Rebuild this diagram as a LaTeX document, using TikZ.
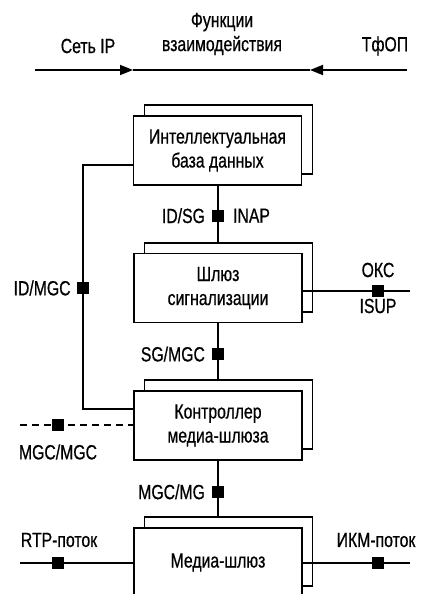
\documentclass[tikz,border=0pt]{standalone}
\usepackage{fontspec}
\setmainfont[FakeStretch=0.77,FakeBold=0.6]{Liberation Sans}
\usetikzlibrary{arrows.meta}
\begin{document}
\begin{tikzpicture}[x=1pt,y=-1pt,
  every node/.style={font=\fontsize{20.5}{24}\selectfont},
  ln/.style={line width=1.8pt},
  frontbox/.style={draw,line width=1.8pt,fill=white,minimum width=168pt,minimum height=69pt,inner sep=0pt,align=center},
  backbox/.style={draw,line width=1.8pt,fill=white,minimum width=168pt,minimum height=69pt,inner sep=0pt},
  sq/.style={fill=black,minimum size=12pt,inner sep=0pt},
  lbl/.style={inner sep=0pt},
  arr/.style={line width=1.8pt,-{Triangle[length=13pt,width=10pt]}}
]
\useasboundingbox (0,0) rectangle (422,594);
% top interworking line
\coordinate (tl) at (35,70);
\coordinate (tr) at (407,70);
\coordinate (al) at (133,70);
\coordinate (ar) at (310,70);
\draw[arr] (tl) -- (al);
\draw[arr] (tr) -- (ar);
\draw[ln] (al) -- (ar);
\node[lbl] (ip) at (88,46) {Сеть IP};
\node[lbl,align=center] (fv) at (222,34) {Функции\\взаимодействия};
\node[lbl] (tfop) at (385,46) {ТфОП};
% boxes
\node[backbox] (b1b) at (228.5,139.5) {};
\node[frontbox] (b1) at (217.5,150.5) {Интеллектуальная\\база данных};
\node[backbox] (b2b) at (228.5,277.5) {};
\node[frontbox] (b2) at (218,288) {Шлюз\\сигнализации};
\node[backbox] (b3b) at (228.5,414.5) {};
\node[frontbox] (b3) at (218,425.5) {Контроллер\\медиа-шлюза};
\node[backbox] (b4b) at (228.5,551.5) {};
\node[frontbox] (b4) at (218,562.5) {Медиа-шлюз};
% vertical connections
\coordinate (c1) at (218,185);
\draw[ln] (b1.south -| c1) -- (b2b.north -| c1) node[sq,pos=0.53] (s1) {};
\node[lbl,anchor=east] at ([xshift=-6pt]s1.west) {ID/SG};
\node[lbl,anchor=west] at ([xshift=8pt]s1.east) {INAP};
\draw[ln] (b2.south -| c1) -- (b3b.north -| c1) node[sq,pos=0.55] (s2) {};
\node[lbl,anchor=east] at ([xshift=-6pt]s2.west) {SG/MGC};
\draw[ln] (b3.south -| c1) -- (b4b.north -| c1) node[sq,pos=0.56] (s3) {};
\node[lbl,anchor=east] at ([xshift=-6pt]s3.west) {MGC/MG};
% ID/MGC
\coordinate (k1) at (83,165);
\coordinate (k2) at (83,409);
\draw[ln] (b1.west |- k1) -- (k1) -- (k2) -- (b3.west |- k2);
\node[sq] (s4) at (83,288) {};
\node[lbl,anchor=east] at ([xshift=-6pt]s4.west) {ID/MGC};
% OKC / ISUP
\coordinate (o1) at (410,291);
\draw[ln] (b2.east |- o1) -- (o1);
\node[sq] (s5) at (378,291) {};
\node[lbl] at (378,270) {ОКС};
\node[lbl] at (378,306) {ISUP};
% MGC/MGC dashed
\coordinate (m1) at (20,425);
\draw[ln,dash pattern=on 7pt off 5pt] (m1) -- (b3.west |- m1);
\node[sq] (s6) at (58,425) {};
\node[lbl] at (58,452) {MGC/MGC};
% RTP
\coordinate (r1) at (20,563);
\draw[ln] (r1) -- (b4.west |- r1);
\node[sq] (s7) at (58,563) {};
\node[lbl] at (59,540) {RTP-поток};
% IKM
\coordinate (r2) at (410,563);
\draw[ln] (b4.east |- r2) -- (r2);
\node[sq] (s8) at (378,563) {};
\node[lbl] at (376,540) {ИКМ-поток};
\end{tikzpicture}
\end{document}
